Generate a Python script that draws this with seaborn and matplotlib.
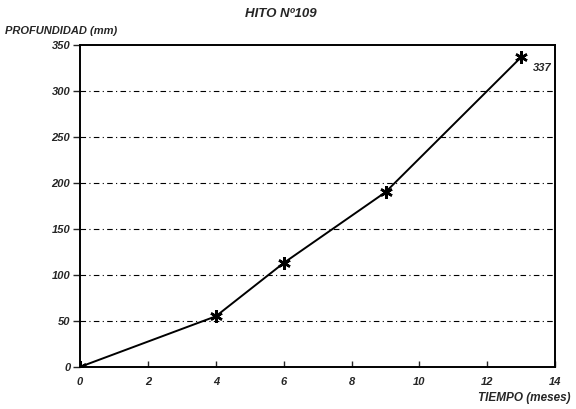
import matplotlib
matplotlib.use("Agg")
import matplotlib.pyplot as plt
import seaborn as sns
import pandas as pd

tiempo = [0, 4, 6, 9, 13]
profundidad = [0, 55, 113, 190, 337]
x_ticks = [0, 2, 4, 6, 8, 10, 12, 14]
y_ticks = [0, 50, 100, 150, 200, 250, 300, 350]
y_tick_labels = ["0", "50", "100", "150", "200", "250", "300", "350"]
grid_levels = [50, 100, 150, 200, 250, 300]

sns.set_style("white")
plt.rcParams['font.family'] = ['Liberation Sans', 'DejaVu Sans']

df = pd.DataFrame({"t": tiempo, "p": profundidad})

fig = plt.figure(figsize=(5.76, 4.09), dpi=100)
ax = fig.add_axes([0.139, 0.103, 0.825, 0.787])

for g in grid_levels:
    ax.axhline(g, color="black", lw=0.8, ls=(0, (5, 3, 1, 3)), zorder=1)

sns.lineplot(data=df, x="t", y="p", ax=ax, color="black", lw=1.4,
             marker=(6, 2, 0), markersize=9, markeredgewidth=1.8,
             markeredgecolor="black", zorder=3)

ax.set_xlim(0, 14)
ax.set_ylim(0, 350)
ax.set_xticks(x_ticks)
ax.set_xticklabels([str(v) for v in x_ticks], fontsize=8, fontweight="heavy", fontstyle="italic")
ax.set_yticks(y_ticks)
ax.set_yticklabels(y_tick_labels, fontsize=8, fontweight="heavy", fontstyle="italic")
ax.tick_params(axis="x", direction="in", length=4, width=1, pad=7, bottom=True)
ax.tick_params(axis="y", direction="out", length=5, width=1, pad=2, left=True)
for s in ax.spines.values():
    s.set_color("black")
    s.set_linewidth(1.4)

ax.set_xlabel("")
ax.set_ylabel("")

ax.annotate(str(profundidad[-1]), (tiempo[-1], profundidad[-1]), xytext=(8, -8),
            textcoords="offset points", fontsize=8, fontweight="heavy", fontstyle="italic",
            ha="left", va="center")

fig.text(0.487, 0.965, "HITO Nº109", ha="center", va="center", fontsize=9.5,
         fontweight="heavy", fontstyle="italic")
fig.text(0.008, 0.925, "PROFUNDIDAD (mm)", ha="left", va="center", fontsize=8,
         fontweight="heavy", fontstyle="italic")
fig.text(0.99, 0.027, "TIEMPO (meses)", ha="right", va="center", fontsize=8.5,
         fontweight="heavy", fontstyle="italic")

fig.savefig("out.png", dpi=100)
